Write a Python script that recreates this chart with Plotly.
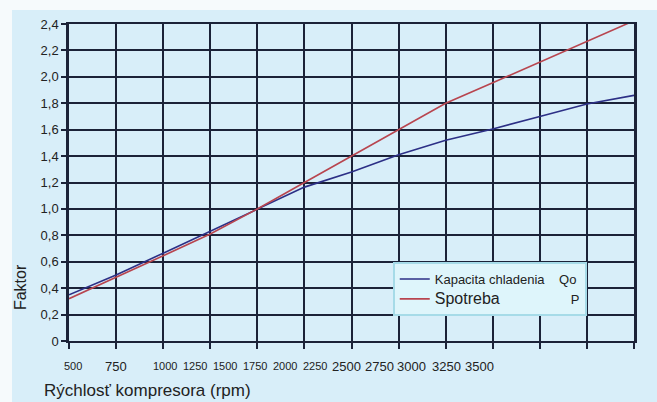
import plotly.graph_objects as go

# ---- data ----
rpm = [500, 750, 1000, 1250, 1500, 1750, 2000, 2250, 2500, 2750, 3000, 3250, 3500]
kapacita_qo = [0.35, 0.50, 0.665, 0.83, 1.0, 1.165, 1.28, 1.41, 1.52, 1.605, 1.70, 1.795, 1.86]
spotreba_p = [0.32, 0.48, 0.645, 0.81, 1.0, 1.2, 1.40, 1.60, 1.80, 1.955, 2.11, 2.265, 2.425]

y_tickvals = [0, 0.2, 0.4, 0.6, 0.8, 1.0, 1.2, 1.4, 1.6, 1.8, 2.0, 2.2, 2.4]
y_ticktext = ["0", "0,2", "0,4", "0,6", "0,8", "1,0", "1,2", "1,4", "1,6", "1,8", "2,0", "2,2", "2,4"]

# x tick labels as printed (they sit offset from the grid in the original scan)
x_labels = ["500", "750", "1000", "1250", "1500", "1750", "2000", "2250",
            "2500", "2750", "3000", "3250", "3500"]
x_label_pos = [521, 750, 1010, 1169, 1328, 1488, 1647, 1806, 1976, 2146, 2321, 2502, 2677]
x_label_size = [11, 13, 11, 11, 11, 11, 11, 11, 13, 13, 13, 13, 13]

GRID = "#1b2238"
FONT = "Liberation Sans, Arial, sans-serif"
NB = "\u00a0"

fig = go.Figure()
fig.add_trace(go.Scatter(
    x=rpm, y=kapacita_qo, mode="lines",
    name="Kapacita chladenia" + NB * 4 + "Qo",
    line=dict(color="#2c2f86", width=1.6), cliponaxis=False))
fig.add_trace(go.Scatter(
    x=rpm, y=spotreba_p, mode="lines",
    name="<span style='font-size:16px'>Spotreba" + NB * 16 + "</span>P",
    line=dict(color="#b8454f", width=1.6), cliponaxis=False))

annotations = []
for lab, pos, sz in zip(x_labels, x_label_pos, x_label_size):
    annotations.append(dict(x=pos, y=0, xref="x", yref="y", text=lab, showarrow=False,
                            yshift=-25, font=dict(size=sz, color="#222", family=FONT)))
annotations.append(dict(x=-0.0867, y=0.17, xref="paper", yref="paper", text="Faktor",
                        textangle=-90, showarrow=False, xanchor="center", yanchor="middle",
                        font=dict(size=16, color="#222", family=FONT)))
annotations.append(dict(x=-0.048, y=-0.155, xref="paper", yref="paper",
                        text="Rýchlosť kompresora (rpm)", showarrow=False,
                        xanchor="left", yanchor="middle",
                        font=dict(size=17, color="#222", family=FONT)))

fig.update_layout(
    width=657, height=402,
    margin=dict(l=69, r=23, t=24, b=61),
    paper_bgcolor="#f6fafc",
    plot_bgcolor="#d6ecfa",
    font=dict(family=FONT, color="#222"),
    shapes=[dict(type="rect", xref="paper", yref="paper",
                 x0=-0.1009, x1=1.05, y0=-0.20, y1=1.044,
                 fillcolor="#d8eef9", line=dict(width=0), layer="below")],
    annotations=annotations,
    showlegend=True,
    legend=dict(x=0.573, y=0.249, xanchor="left", yanchor="top",
                bgcolor="#def5fb", bordercolor="#a6dbe8", borderwidth=2,
                font=dict(size=13, color="#222", family=FONT),
                tracegroupgap=2),
)
fig.update_xaxes(range=[500, 3500], dtick=250, tick0=500, showgrid=True,
                 gridcolor=GRID, gridwidth=2, showticklabels=False,
                 ticks="outside", ticklen=6, tickwidth=2, tickcolor=GRID,
                 showline=True, linecolor=GRID, linewidth=2, mirror=True, zeroline=False)
fig.update_yaxes(range=[0, 2.4], tickvals=y_tickvals, ticktext=y_ticktext, showgrid=True,
                 gridcolor=GRID, gridwidth=2, ticks="outside", ticklen=5, tickwidth=2,
                 tickcolor=GRID, tickfont=dict(size=13, color="#222", family=FONT),
                 showline=True, linecolor=GRID, linewidth=2.5, mirror=True, zeroline=False)

fig.write_html("out.html", config={"displayModeBar": False},
               post_script="document.body.style.margin='0px';document.body.style.overflow='hidden';")
